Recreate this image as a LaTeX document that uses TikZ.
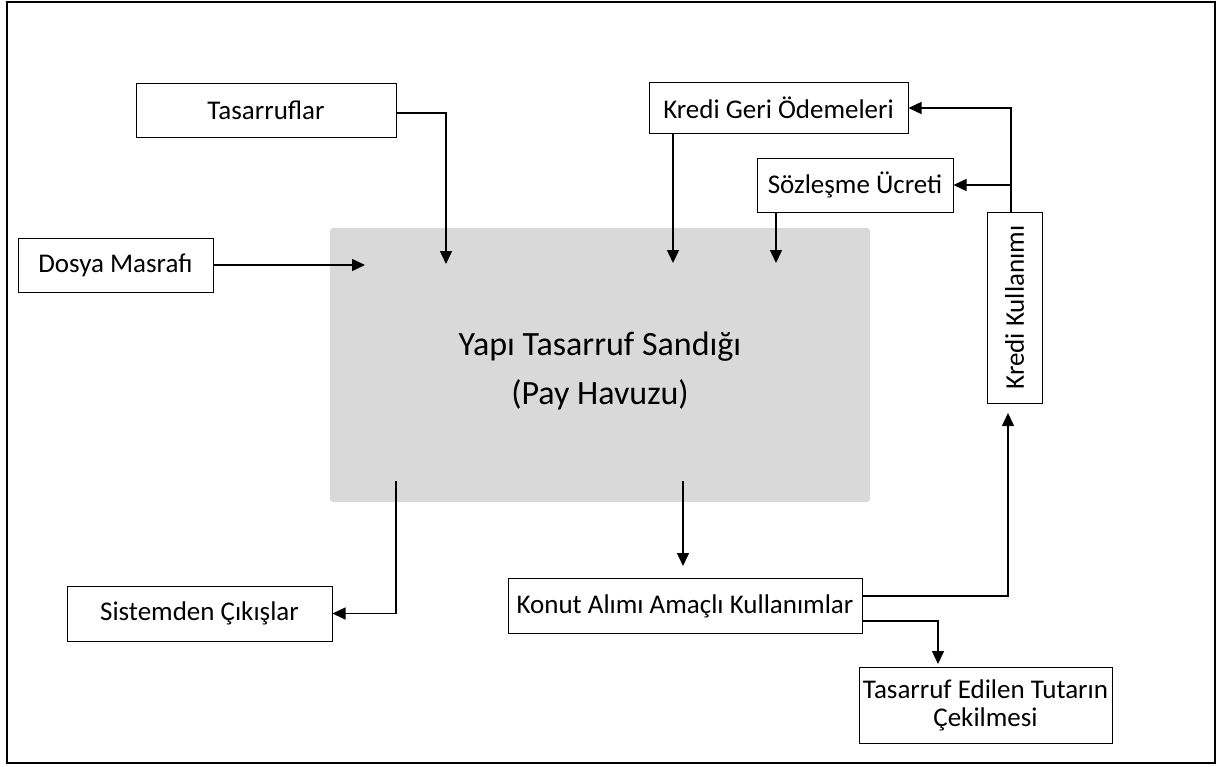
\documentclass[tikz,border=0pt]{standalone}
\usepackage{fontspec}
\setmainfont{Carlito}
\usetikzlibrary{arrows.meta}
\tikzset{
  box/.style={draw, line width=1pt, fill=white, inner sep=0pt, align=center,
    font=\fontsize{27}{28}\selectfont},
  arr/.style={-{Triangle[length=13pt,width=12pt]}, line width=1.5pt},
}
\begin{document}
\begin{tikzpicture}[x=1pt,y=-1pt]
\useasboundingbox (0,0) rectangle (1220,766);
\draw[line width=2.2pt] (7,2) rectangle (1215,763);
% pool
\node[fill={rgb,255:red,217;green,217;blue,217}, rounded corners=3pt, minimum width=540pt, minimum height=274pt, inner sep=0pt] (pool) at (600,365) {};
\node[align=center, font=\fontsize{34}{49}\selectfont] (pooltxt) at (600,371) {Yapı Tasarruf Sandığı\\(Pay Havuzu)};
% boxes
\node[box, minimum width=260pt, minimum height=54pt] (tas) at (266,110) {Tasarruflar};
\node[box, minimum width=195pt, minimum height=54pt] (dos) at (115.5,265) {Dosya Masrafı};
\node[box, minimum width=259pt, minimum height=51pt] (kgo) at (778.5,108) {Kredi Geri Ödemeleri};
\node[box, minimum width=196pt, minimum height=54pt] (soz) at (855,185) {Sözleşme Ücreti};
\node[box, minimum width=55pt, minimum height=191pt] (kk) at (1014.5,307.5) {\rotatebox{90}{Kredi Kullanımı}};
\node[box, minimum width=265pt, minimum height=55pt] (sis) at (199.5,613.5) {Sistemden Çıkışlar};
\node[box, minimum width=354pt, minimum height=55pt] (kon) at (685,606) {Konut Alımı Amaçlı Kullanımlar};
\node[box, minimum width=253pt, minimum height=76pt] (ted) at (985.5,705) {Tasarruf Edilen Tutarın\\Çekilmesi};
% coordinates
\coordinate (p1) at (446,264);
\coordinate (p0) at (365,265);
\coordinate (p2) at (673,263);
\coordinate (p3) at (776,263);
\coordinate (pk) at (1011,212);
\coordinate (q1) at (396,481);
\coordinate (q2) at (683,481);
\coordinate (q3) at (683,566);
\coordinate (q4) at (1008,413);
\coordinate (q5) at (938,664);
% connectors
\draw[arr] ([yshift=-3pt]tas.east) -| (p1);
\draw[arr] (dos.east) -- (p0);
\draw[arr] (kgo.south -| p2) -- (p2);
\draw[arr] (soz.south -| p3) -- (p3);
\draw[arr] (pk) |- (kgo.east);
\draw[arr] (pk |- soz.east) -- (soz.east);
\draw[arr] (q1) |- (sis.east);
\draw[arr] (q2) -- (q3);
\draw[arr] ([yshift=10pt]kon.east) -| (q4);
\draw[arr] ([yshift=-15pt]kon.east) -| (q5);
\end{tikzpicture}
\end{document}
